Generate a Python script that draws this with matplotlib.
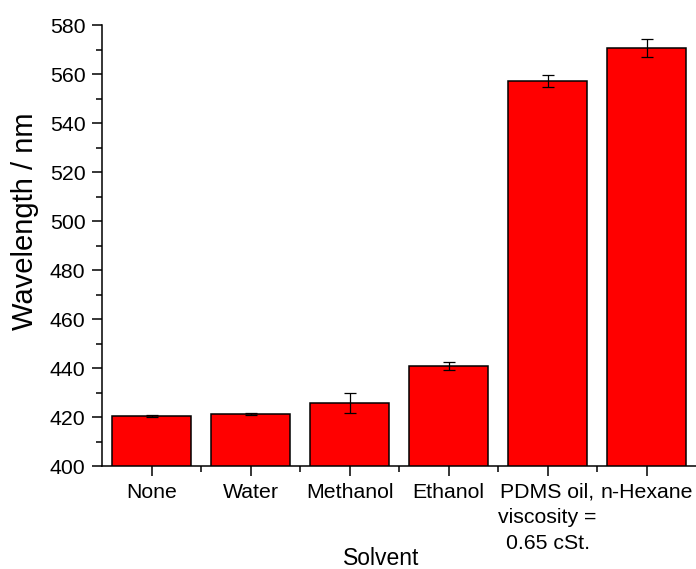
import numpy as np
from matplotlib import pyplot as plt
from matplotlib.ticker import MultipleLocator, FixedLocator

plt.rcParams['font.family'] = ['Liberation Sans', 'DejaVu Sans']

solvents = ["None", "Water", "Methanol", "Ethanol",
            "PDMS oil,\nviscosity =\n0.65 cSt.", "n-Hexane"]
wavelength = [420.5, 421.3, 425.7, 440.8, 557.3, 570.5]
wavelength_err = [0.4, 0.4, 4.0, 1.5, 2.5, 3.7]

fig = plt.figure(figsize=(6.96, 5.69), dpi=100)
ax = fig.add_axes([0.1466, 0.181, 0.8534, 0.775])

x = np.arange(len(solvents))
ax.bar(x, wavelength, width=0.8, color="#ff0000", edgecolor="black", linewidth=1.1,
       yerr=wavelength_err, capsize=4,
       error_kw=dict(elinewidth=0.9, capthick=0.9, ecolor="black"))

ax.set_xlim(-0.5, 5.5)
ax.set_ylim(400, 580)
ax.spines["top"].set_visible(False)
ax.spines["right"].set_visible(False)
ax.spines["left"].set_linewidth(1.1)
ax.spines["bottom"].set_linewidth(1.1)

ax.set_xticks(x)
ax.set_xticklabels(solvents, linespacing=1.45)
ax.xaxis.set_minor_locator(FixedLocator(x[:-1] + 0.5))
ax.yaxis.set_major_locator(MultipleLocator(20))
ax.yaxis.set_minor_locator(MultipleLocator(10))
ax.tick_params(which="major", direction="out", length=7, width=1.1, labelsize=15.3, pad=5)
ax.tick_params(which="minor", direction="out", length=4, width=1.1)

ax.set_xlabel("Solvent", fontsize=16.5)
ax.xaxis.label.set_verticalalignment("center")
ax.xaxis.set_label_coords(0.47, -0.209)
ax.set_ylabel("Wavelength / nm", fontsize=21)
ax.yaxis.label.set_verticalalignment("center")
ax.yaxis.set_label_coords(-0.13, 0.556)

fig.savefig("out.png", dpi=100)
